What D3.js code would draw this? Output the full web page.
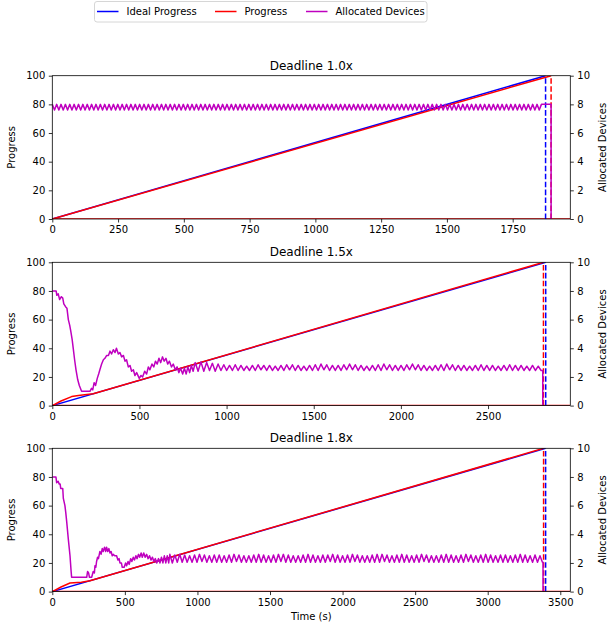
<!DOCTYPE html>
<html>
<head>
<meta charset="utf-8">
<script src="https://cdn.jsdelivr.net/npm/d3@7"></script>
<style>
body { margin: 0; background: #fff; }
text { font-family: "DejaVu Sans", sans-serif; fill: #000; }
</style>
</head>
<body>
<div id="chart"></div>
<script>
// ---- data ----
const titles = ['Deadline 1.0x', 'Deadline 1.5x', 'Deadline 1.8x'];
const xMaxes = [1969, 2972, 3569];
const xTicks = [
	[0, 250, 500, 750, 1000, 1250, 1500, 1750],
	[0, 500, 1000, 1500, 2000, 2500],
	[0, 500, 1000, 1500, 2000, 2500, 3000, 3500]
];
const progressTicks = [0, 20, 40, 60, 80, 100];
const deviceTicks = [0, 2, 4, 6, 8, 10];

// [time, progress %]
const idealProgress = [
	[[0, 0], [1875, 100]],
	[[0, 0], [2831, 100]],
	[[0, 0], [3399, 100]]
];
const actualProgress = [
	[[0, 0], [1896, 100]],
	[[0, 0], [50, 3.2], [111, 6.3], [150, 7.0], [235, 8.3], [2818, 100]],
	[[0, 0], [60, 3.2], [122, 6.0], [200, 6.6], [260, 7.6], [3385, 100]]
];

// allocated devices: irregular start as [time, devices] ...
const allocHead = [
	[],
	[[0, 8], [22, 8], [26, 7.7], [34, 7.8], [42, 7.4], [52, 7.6], [60, 7.5], [66, 7.1], [76, 6.9], [84, 6.8],
	 [92, 6.0], [100, 5.6], [106, 5.2], [114, 4.6], [121, 3.9], [128, 3.2], [136, 2.5], [146, 1.8], [155, 1.4],
	 [168, 1.0], [216, 1.0], [225, 1.2], [232, 1.1], [240, 1.6], [248, 1.4], [258, 1.9], [266, 2.2], [273, 2.5],
	 [283, 2.9], [293, 3.2], [302, 3.3], [312, 3.5], [322, 3.5], [331, 3.8], [340, 3.6], [350, 3.9], [360, 3.7],
	 [368, 4.0], [379, 3.6], [388, 3.7], [398, 3.4], [408, 3.5], [417, 3.1], [426, 3.2], [436, 2.7], [446, 2.8],
	 [455, 2.4], [465, 2.5], [474, 2.1], [484, 2.3], [499, 1.9], [509, 2.1], [518, 2.0], [530, 2.4], [541, 2.2],
	 [551, 2.7], [560, 2.5], [572, 2.9], [582, 2.7], [592, 3.1], [602, 2.9], [612, 3.3], [622, 3.0], [632, 3.4],
	 [642, 3.1], [652, 3.3], [662, 2.9], [672, 3.1], [684, 2.7], [694, 2.9], [706, 2.5], [716, 2.7], [726, 2.3],
	 [736, 2.6], [748, 2.2], [758, 2.6], [768, 2.2], [778, 2.7], [788, 2.3], [798, 2.8], [808, 2.4]],
	[[0, 8], [25, 8], [30, 7.6], [40, 7.7], [48, 7.5], [54, 7.5], [58, 7.2], [72, 7.2], [76, 6.5], [87, 6.0],
	 [93, 5.5], [99, 4.9], [110, 3.7], [122, 2.5], [129, 1.5], [133, 1.0], [237, 1.0], [243, 1.4], [250, 1.3],
	 [256, 1.0], [271, 1.0], [282, 1.4], [290, 1.3], [294, 1.8], [300, 1.7], [305, 2.1], [312, 2.4], [318, 2.3],
	 [328, 2.8], [336, 2.6], [344, 3.0], [351, 2.8], [360, 3.1], [368, 2.8], [374, 3.1], [382, 2.8], [390, 3.0],
	 [397, 2.7], [405, 2.8], [413, 2.5], [420, 2.6], [430, 2.5], [443, 2.5], [452, 2.2], [460, 2.3], [466, 2.0],
	 [476, 2.0], [482, 1.7], [495, 1.7], [505, 2.0], [512, 1.8], [522, 2.1], [530, 1.9], [540, 2.3], [548, 2.1],
	 [558, 2.4], [566, 2.2], [576, 2.5], [584, 2.3], [594, 2.6], [602, 2.4], [612, 2.7], [620, 2.4], [630, 2.7],
	 [640, 2.4], [650, 2.6], [660, 2.3], [670, 2.5], [680, 2.2], [690, 2.4], [700, 2.1], [710, 2.3], [720, 2.0],
	 [732, 2.3], [742, 2.0], [752, 2.4], [762, 2.0], [772, 2.5], [782, 2.0], [792, 2.5], [802, 2.0]]
];
// ... then the steady oscillation, sampled every allocStep seconds from allocStart
const allocStart = [0, 820, 810];
const allocStep = [8.3, 16.4, 17];
const allocTail = [
	[8, 7.6, 8, 7.6, 8, 7.6, 8, 7.6, 8, 7.6, 8, 7.6, 8, 7.6, 8, 7.6, 8, 7.6, 8, 7.6, 8, 7.6, 8, 7.6, 8, 7.6, 8, 7.6,
	 8, 7.6, 8, 7.6, 8, 7.6, 8, 7.6, 8, 7.6, 8, 7.6, 8, 7.6, 8, 7.6, 8, 7.6, 8, 7.6, 8, 7.6, 8, 7.6, 8, 7.6, 8, 7.6,
	 8, 7.6, 8, 7.6, 8, 7.6, 8, 7.6, 8, 7.6, 8, 7.6, 8, 7.6, 8, 7.6, 8, 7.6, 8, 7.6, 8, 7.6, 8, 7.6, 8, 7.6, 8, 7.6,
	 8, 7.6, 8, 7.6, 8, 7.6, 8, 7.6, 8, 7.6, 8, 7.6, 8, 7.6, 8, 7.6, 8, 7.6, 8, 7.6, 8, 7.6, 8, 7.6, 8, 7.6, 8, 7.6,
	 8, 7.6, 8, 7.6, 8, 7.6, 8, 7.6, 8, 7.6, 8, 7.6, 8, 7.6, 8, 7.6, 8, 7.6, 8, 7.6, 8, 7.6, 8, 7.6, 8, 7.6, 8, 7.6,
	 8, 7.6, 8, 7.6, 8, 7.6, 8, 7.6, 8, 7.6, 8, 7.6, 8, 7.6, 8, 7.6, 8, 7.6, 8, 7.6, 8, 7.6, 8, 7.6, 8, 7.6, 8, 7.6,
	 8, 7.6, 8, 7.6, 8, 7.6, 8, 7.6, 8, 7.6, 8, 7.6, 8, 7.6, 8, 7.6, 8, 7.6, 8, 7.6, 8, 7.6, 8, 7.6, 8, 7.6, 8, 7.6,
	 8, 7.6, 8, 7.6, 8, 7.6, 8, 7.6, 8, 7.6, 8, 7.6, 8, 7.6, 8, 7.6, 8, 7.6, 8, 7.6, 8, 7.6, 8, 7.6, 8, 7.6, 8, 7.6,
	 8],
	[3.0, 2.4, 3.05, 2.4, 3.0, 2.45, 2.95, 2.4, 2.9, 2.45, 2.85, 2.45, 2.8, 2.45, 2.85, 2.45, 2.8, 2.45, 2.75, 2.45,
	 2.8, 2.45, 2.85, 2.5, 2.8, 2.45, 2.8, 2.45, 2.75, 2.45, 2.8, 2.45, 2.85, 2.5, 2.85, 2.45, 2.8, 2.45, 2.75, 2.45,
	 2.8, 2.45, 2.85, 2.45, 2.9, 2.5, 2.85, 2.45, 2.8, 2.45, 2.8, 2.45, 2.85, 2.5, 2.9, 2.5, 2.85, 2.45, 2.8, 2.45,
	 2.75, 2.45, 2.8, 2.45, 2.85, 2.45, 2.9, 2.5, 2.85, 2.45, 2.8, 2.45, 2.8, 2.45, 2.85, 2.5, 2.9, 2.5, 2.85, 2.45,
	 2.8, 2.45, 2.75, 2.45, 2.8, 2.45, 2.85, 2.45, 2.9, 2.5, 2.85, 2.45, 2.8, 2.45, 2.8, 2.45, 2.75, 2.45, 2.8, 2.45,
	 2.85, 2.45, 2.8, 2.45, 2.8, 2.45, 2.75, 2.45, 2.8, 2.45, 2.85, 2.45, 2.8, 2.45, 2.8, 2.45, 2.75, 2.45, 2.8, 2.45,
	 2.75, 2.45],
	[2.6, 2.0, 2.55, 2.05, 2.6, 2.05, 2.55, 2.05, 2.5, 2.05, 2.55, 2.05, 2.6, 2.1, 2.55, 2.05, 2.5, 2.05, 2.55, 2.05,
	 2.55, 2.05, 2.5, 2.05, 2.55, 2.05, 2.6, 2.1, 2.55, 2.05, 2.5, 2.05, 2.5, 2.05, 2.55, 2.05, 2.6, 2.05, 2.55, 2.05,
	 2.5, 2.05, 2.55, 2.05, 2.6, 2.1, 2.6, 2.05, 2.55, 2.05, 2.5, 2.05, 2.5, 2.05, 2.55, 2.05, 2.6, 2.05, 2.55, 2.05,
	 2.5, 2.05, 2.55, 2.05, 2.55, 2.1, 2.6, 2.05, 2.55, 2.05, 2.5, 2.05, 2.55, 2.05, 2.6, 2.1, 2.55, 2.05, 2.5, 2.05,
	 2.5, 2.05, 2.55, 2.05, 2.6, 2.05, 2.6, 2.1, 2.55, 2.05, 2.5, 2.05, 2.55, 2.05, 2.6, 2.05, 2.55, 2.05, 2.5, 2.05,
	 2.55, 2.05, 2.6, 2.1, 2.55, 2.05, 2.5, 2.05, 2.5, 2.05, 2.55, 2.05, 2.6, 2.05, 2.55, 2.05, 2.5, 2.05, 2.55, 2.05,
	 2.6, 2.1, 2.55, 2.05, 2.5, 2.05, 2.55, 2.05, 2.6, 2.05, 2.55, 2.05, 2.5, 2.05, 2.55, 2.05, 2.55, 2.05, 2.5, 2.05,
	 2.55, 2.05, 2.6, 2.05, 2.55, 2.05, 2.5, 2.05, 2.55, 2.05, 2.5, 2.05]
];
const allocEnd = [1896, 2814, 3381];

const legendLabels = ['Ideal Progress', 'Progress', 'Allocated Devices'];
const COLORS = { ideal: '#0000ff', progress: '#ff0000', devices: '#bf00bf' };

// ---- layout ----
const W = 608, H = 627;
const LEFT = 52.3, RIGHT = 570.3;
const PANEL_TOPS = [75.7, 262.3, 448.3];
const PANEL_H = 143.3;
const plotW = RIGHT - LEFT;

function trans(x, y) {
	return 'translate(' + x + ',' + y + ')';
}

const svg = d3.select('#chart').append('svg')
	.attr('width', W)
	.attr('height', H);

// legend
const legend = svg.append('g').attr('transform', trans(94.5, 1.5));
legend.append('rect')
	.attr('width', 332.5).attr('height', 20.5)
	.attr('rx', 2.5)
	.attr('fill', '#fff').attr('fill-opacity', 0.8)
	.attr('stroke', '#cccccc').attr('stroke-width', 0.8);
const legendX = [2.5, 120.5, 211.5];
const legendColors = [COLORS.ideal, COLORS.progress, COLORS.devices];
legendLabels.forEach((label, k) => {
	legend.append('line')
		.attr('x1', legendX[k]).attr('x2', legendX[k] + 21.5)
		.attr('y1', 10).attr('y2', 10)
		.attr('stroke', legendColors[k]).attr('stroke-width', 1.5);
	legend.append('text')
		.attr('x', legendX[k] + 29.5).attr('y', 13.7)
		.style('font-size', '10px')
		.text(label);
});

titles.forEach((title, i) => {
	const g = svg.append('g').attr('transform', trans(LEFT, PANEL_TOPS[i]));
	const x = d3.scaleLinear().domain([0, xMaxes[i]]).range([0, plotW]);
	const yL = d3.scaleLinear().domain([0, 100]).range([PANEL_H, 0]);
	const yR = d3.scaleLinear().domain([0, 10]).range([PANEL_H, 0]);

	const clipId = 'clip' + i;
	g.append('clipPath').attr('id', clipId)
		.append('rect').attr('width', plotW).attr('height', PANEL_H);
	const plot = g.append('g').attr('clip-path', 'url(#' + clipId + ')');

	const lineL = d3.line().x(d => x(d[0])).y(d => yL(d[1]));
	const lineR = d3.line().x(d => x(d[0])).y(d => yR(d[1]));

	plot.append('path')
		.attr('d', lineL(idealProgress[i]))
		.attr('fill', 'none').attr('stroke', COLORS.ideal)
		.attr('stroke-width', 1.5).attr('stroke-linejoin', 'round');
	plot.append('path')
		.attr('d', lineL(actualProgress[i]))
		.attr('fill', 'none').attr('stroke', COLORS.progress)
		.attr('stroke-width', 1.5).attr('stroke-linejoin', 'round');
	// progress after completion stays at the baseline
	plot.append('line')
		.attr('x1', x(0)).attr('x2', x(xMaxes[i]))
		.attr('y1', yL(0)).attr('y2', yL(0))
		.attr('stroke', COLORS.progress).attr('stroke-width', 1.5);

	// deadline markers
	const idealEnd = idealProgress[i][idealProgress[i].length - 1][0];
	const actualEnd = actualProgress[i][actualProgress[i].length - 1][0];
	[[idealEnd, COLORS.ideal], [actualEnd, COLORS.progress]].forEach(([t, c]) => {
		plot.append('line')
			.attr('x1', x(t)).attr('x2', x(t))
			.attr('y1', yL(0)).attr('y2', yL(100))
			.attr('stroke', c).attr('stroke-width', 1.5)
			.attr('stroke-dasharray', '5.55,2.4');
	});

	// allocated devices (right axis)
	const tail = allocTail[i].map((v, k) => [allocStart[i] + k * allocStep[i], v]);
	const last = allocTail[i][allocTail[i].length - 1];
	const alloc = allocHead[i].concat(tail).concat([[allocEnd[i], last], [allocEnd[i], 0]]);
	plot.append('path')
		.attr('d', lineR(alloc))
		.attr('fill', 'none').attr('stroke', COLORS.devices)
		.attr('stroke-width', 1.5).attr('stroke-linejoin', 'round');

	// frame
	g.append('rect')
		.attr('width', plotW).attr('height', PANEL_H)
		.attr('fill', 'none').attr('stroke', '#000').attr('stroke-width', 0.8);

	// axes
	const styleAxis = sel => {
		sel.select('.domain').remove();
		sel.selectAll('.tick line').attr('stroke', '#000').attr('stroke-width', 0.8);
		sel.selectAll('.tick text').style('font-size', '10px').style('font-family', '"DejaVu Sans", sans-serif');
	};
	g.append('g').attr('transform', trans(0, PANEL_H))
		.call(d3.axisBottom(x).tickValues(xTicks[i]).tickSize(3.5).tickPadding(3.5).tickFormat(d3.format('d')))
		.call(styleAxis);
	g.append('g')
		.call(d3.axisLeft(yL).tickValues(progressTicks).tickSize(3.5).tickPadding(3.5))
		.call(styleAxis);
	g.append('g').attr('transform', trans(plotW, 0))
		.call(d3.axisRight(yR).tickValues(deviceTicks).tickSize(3.5).tickPadding(3.5))
		.call(styleAxis);

	g.append('text')
		.attr('x', plotW / 2).attr('y', -6)
		.attr('text-anchor', 'middle')
		.style('font-size', '12px')
		.text(title);

	g.append('text')
		.attr('transform', trans(15 - LEFT, PANEL_H / 2) + ' rotate(-90)')
		.attr('text-anchor', 'middle')
		.style('font-size', '10px')
		.text('Progress');
	g.append('text')
		.attr('transform', trans(W - 2 - LEFT, PANEL_H / 2) + ' rotate(-90)')
		.attr('text-anchor', 'middle')
		.style('font-size', '10px')
		.text('Allocated Devices');
});

svg.append('text')
	.attr('x', LEFT + plotW / 2).attr('y', 620)
	.attr('text-anchor', 'middle')
	.style('font-size', '10px')
	.text('Time (s)');
</script>
</body>
</html>
